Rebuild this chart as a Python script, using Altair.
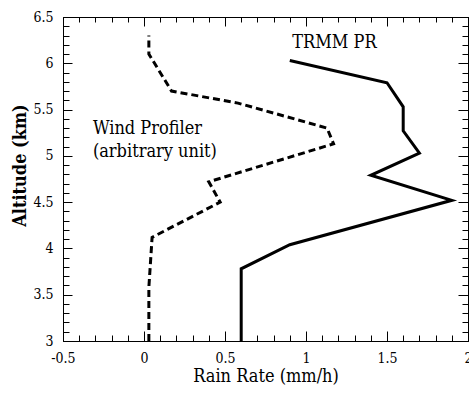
import altair as alt
import pandas as pd

# ---- data ----
trmm_rain = [0.6, 0.6, 0.9, 1.9, 1.4, 1.7, 1.6, 1.6, 1.5, 0.9]
trmm_alt = [3.0, 3.78, 4.04, 4.52, 4.79, 5.03, 5.27, 5.53, 5.79, 6.03]

wind_rain = [0.03, 0.03, 0.05, 0.47, 0.40, 1.17, 1.13, 0.58, 0.17, 0.03, 0.03]
wind_alt = [3.0, 3.58, 4.12, 4.50, 4.72, 5.13, 5.30, 5.57, 5.70, 6.10, 6.30]

x_major = [-0.5, 0, 0.5, 1, 1.5, 2]
x_minor = [-0.5, -0.4, -0.3, -0.2, -0.1, 0, 0.1, 0.2, 0.3, 0.4, 0.5, 0.6, 0.7,
           0.8, 0.9, 1, 1.1, 1.2, 1.3, 1.4, 1.5, 1.6, 1.7, 1.8, 1.9, 2]
y_major = [3, 3.5, 4, 4.5, 5, 5.5, 6, 6.5]
y_minor = [3, 3.1, 3.2, 3.3, 3.4, 3.5, 3.6, 3.7, 3.8, 3.9, 4, 4.1, 4.2, 4.3,
           4.4, 4.5, 4.6, 4.7, 4.8, 4.9, 5, 5.1, 5.2, 5.3, 5.4, 5.5, 5.6, 5.7,
           5.8, 5.9, 6, 6.1, 6.2, 6.3, 6.4, 6.5]

trmm_label = ["TRMM PR"]
trmm_label_x = [0.915]
trmm_label_y = [6.161]

wind_label = ["Wind Profiler", "(arbitrary unit)"]
wind_label_x = [-0.3155, -0.3155]
wind_label_y = [5.235, 4.985]

FONT = "DejaVu Serif Condensed, DejaVu Serif"

trmm_df = pd.DataFrame({"rain": trmm_rain, "alt": trmm_alt,
                        "i": list(range(len(trmm_rain)))})
wind_df = pd.DataFrame({"rain": wind_rain, "alt": wind_alt,
                        "i": list(range(len(wind_rain)))})
tlab_df = pd.DataFrame({"rain": trmm_label_x, "alt": trmm_label_y, "t": trmm_label})
wlab_df = pd.DataFrame({"rain": wind_label_x, "alt": wind_label_y, "t": wind_label})

xs = alt.Scale(domain=[-0.5, 2], nice=False, zero=False)
ys = alt.Scale(domain=[3, 6.5], nice=False, zero=False)

common = dict(grid=False, domain=False, tickColor="black", tickWidth=1)

ax_bottom_major = alt.Axis(orient="bottom", values=x_major, tickSize=10, offset=-10,
                           labelPadding=10, labelExpr="datum.value + ''",
                           labelFont=FONT, labelFontSize=14, labelColor="black",
                           labelFlush=False, labelOverlap=False,
                           title="Rain Rate (mm/h)", titleFont=FONT,
                           titleFontSize=18,
                           titleFontWeight="normal", titleColor="black",
                           titleX=202.5, titleY=50, titleAlign="center",
                           titleBaseline="alphabetic", **common)
ax_bottom_minor = alt.Axis(orient="bottom", values=x_minor, tickSize=6, offset=-6,
                           labels=False, title=None, **common)
ax_top_major = alt.Axis(orient="top", values=x_major, tickSize=9, offset=-9,
                        labels=False, title=None, **common)
ax_top_minor = alt.Axis(orient="top", values=x_minor, tickSize=5, offset=-5,
                        labels=False, title=None, **common)

ax_left_major = alt.Axis(orient="left", values=y_major, tickSize=9, offset=-9,
                         labelPadding=10, labelExpr="datum.value + ''",
                         labelFont=FONT, labelFontSize=14, labelColor="black",
                         labelFlush=False, labelOverlap=False,
                         title="Altitude (km)", titleFont=FONT,
                         titleFontSize=18,
                         titleFontWeight="bold", titleColor="black",
                         titleAngle=270, titleX=-52, titleY=148,
                         titleAlign="center", titleBaseline="middle", **common)
ax_left_minor = alt.Axis(orient="left", values=y_minor, tickSize=6, offset=-6,
                         labels=False, title=None, **common)
ax_right_major = alt.Axis(orient="right", values=y_major, tickSize=10, offset=-10,
                          labels=False, title=None, **common)
ax_right_minor = alt.Axis(orient="right", values=y_minor, tickSize=6, offset=-6,
                          labels=False, title=None, **common)

trmm = alt.Chart(trmm_df).mark_line(color="black", strokeWidth=3).encode(
    x=alt.X("rain:Q", scale=xs, axis=ax_bottom_major),
    y=alt.Y("alt:Q", scale=ys, axis=ax_left_major),
    order="i:Q",
)

wind = alt.Chart(wind_df).mark_line(color="black", strokeWidth=3,
                                    strokeDash=[7, 4]).encode(
    x=alt.X("rain:Q", scale=xs, axis=ax_bottom_minor),
    y=alt.Y("alt:Q", scale=ys, axis=ax_left_minor),
    order="i:Q",
)

tlab = alt.Chart(tlab_df).mark_text(font=FONT, fontSize=18, color="black",
                                    align="left", baseline="alphabetic").encode(
    x=alt.X("rain:Q", scale=xs, axis=ax_top_major),
    y=alt.Y("alt:Q", scale=ys, axis=ax_right_major),
    text="t:N",
)

wlab = alt.Chart(wlab_df).mark_text(font=FONT, fontSize=18, color="black",
                                    align="left", baseline="alphabetic").encode(
    x=alt.X("rain:Q", scale=xs, axis=ax_top_minor),
    y=alt.Y("alt:Q", scale=ys, axis=ax_right_minor),
    text="t:N",
)

chart = alt.layer(trmm, wind, tlab, wlab).resolve_axis(
    x="independent", y="independent"
).properties(
    width=405, height=324,
    autosize=alt.AutoSizeParams(type="none"),
    padding={"left": 63, "top": 17, "right": 1, "bottom": 56},
    background="white",
).configure_view(stroke="black", strokeWidth=1)

chart.save("out.html", embed_options={"renderer": "svg", "actions": False})
